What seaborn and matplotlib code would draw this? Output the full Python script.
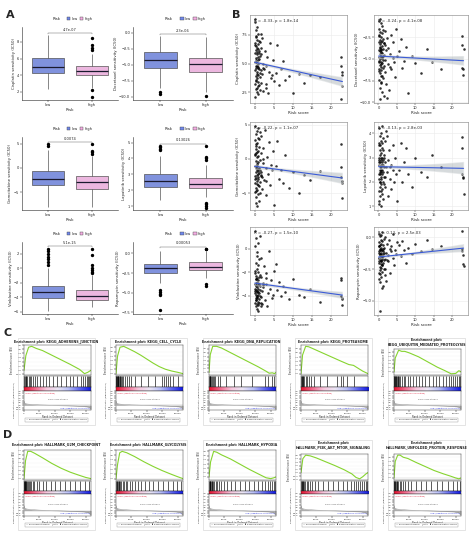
import numpy as np
import pandas as pd
import matplotlib
matplotlib.use("Agg")
import matplotlib.pyplot as plt
import seaborn as sns
from matplotlib.patches import Patch, Rectangle
from matplotlib.collections import PolyCollection
from matplotlib.colors import LinearSegmentedColormap
from matplotlib.ticker import MultipleLocator, FuncFormatter

# ---------------- panel A: drug sensitivity boxplots ----------------
drugs = ["Cisplatin", "Docetaxel", "Gemcitabine", "Lapatinib", "Vinblastine", "Rapamycin"]
box_pvals = ["4.7e-07", "2.3e-06", "0.0074", "0.13026", "5.1e-15", "0.00053"]
# (lower whisker, q1, median, q3, upper whisker)
low_stats = [(2.3, 4.26, 5.0, 6.1, 8.8), (-8.6, -5.5, -4.28, -3.08, -0.5),
             (-8.0, -3.6, -2.3, -0.6, 3.8), (1.4, 2.2, 2.6, 3.0, 4.15),
             (-5.9, -4.1, -3.3, -2.44, 0.0), (-3.7, -2.5, -1.84, -1.35, 0.35)]
high_stats = [(2.45, 4.0, 4.5, 5.07, 6.6), (-9.3, -6.1, -4.9, -3.9, -0.7),
              (-8.1, -4.3, -2.9, -1.6, 2.4), (1.6, 2.15, 2.4, 2.75, 3.6),
              (-5.4, -4.4, -3.8, -3.0, -1.0), (-3.07, -2.17, -1.72, -1.15, 0.35)]
low_outliers = [[], [-9.3, -9.6], [4.6, 4.9], [4.5, 4.6, 4.7, 4.8],
                [0.4, 0.8, 1.2, 1.6, 2.0, 2.4, 2.7], [-4.7, -4.9, -5.1, -5.3, -7.25]]
high_outliers = [[7.0, 7.3, 7.6, 8.5, 2.2, 1.4], [-9.9], [2.9, 3.2, 3.5, 4.9],
                 [3.9, 4.0, 4.1, 4.8, 1.2, 1.1, 1.0, 0.9],
                 [-0.7, -0.5, -0.3, 0.0, 0.4, 1.8, 2.7], [0.5, 0.6, -3.9, -4.1]]
box_yticks = [[2, 4, 6, 8], [-10.0, -7.5, -5.0, -2.5, 0.0], [-5, 0, 5],
              [1, 2, 3, 4, 5], [-6, -4, -2, 0, 2], [-7.5, -5.0, -2.5, 0.0]]
box_ylims = [(1.0, 9.8), (-10.5, 0.9), (-8.7, 6.4), (0.75, 5.35), (-6.3, 3.6), (-7.7, 1.45)]

# ---------------- panel B: risk score vs sensitivity ----------------
risk_score = [
    0.05, 0.1, 0.12, 0.15, 0.18, 0.2, 0.22, 0.25, 0.28, 0.3,
    0.32, 0.35, 0.38, 0.4, 0.42, 0.45, 0.48, 0.5, 0.52, 0.55,
    0.58, 0.6, 0.62, 0.65, 0.68, 0.7, 0.72, 0.75, 0.78, 0.8,
    0.82, 0.85, 0.88, 0.9, 0.92, 0.95, 0.98, 1.0, 1.05, 1.1,
    1.12, 1.15, 1.2, 1.25, 1.3, 1.35, 1.4, 1.45, 1.5, 1.55,
    0.08, 0.14, 0.26, 0.36, 0.46, 0.56, 0.66, 0.76, 0.86, 0.96,
    1.6, 1.7, 1.8, 1.9, 2.0, 2.1, 2.3, 2.5, 2.7, 2.9, 3.1, 3.3, 3.5, 3.8, 4.0, 4.2,
    4.5, 4.8, 5.0, 1.65, 2.2, 3.0,
    5.5, 6.0, 6.5, 7.0, 7.5, 8.0, 9.0, 10.0, 11.5, 13.0, 14.5, 17.0,
    22.5, 22.6, 22.7, 22.8, 22.9, 23.0]
cisplatin = [
    8.6, 3.2, 5.1, 6.8, 4.4, 2.1, 5.9, 4.8, 7.4, 3.9, 5.5, 6.2, 2.8, 4.6, 7.9, 5.3, 3.5, 6.5, 4.1, 5.8,
    2.5, 7.1, 4.9, 3.7, 6.0, 5.2, 8.2, 4.3, 3.0, 6.7, 5.6, 4.0, 7.6, 2.3, 5.0, 6.3, 3.4, 4.7, 5.9, 7.0,
    4.5, 3.1, 6.1, 5.4, 2.7, 4.2, 6.9, 3.8, 5.7, 4.4, 8.9, 6.6, 3.6, 5.1, 7.3, 4.8, 2.9, 6.4, 5.3, 4.6,
    6.4, 3.3, 5.8, 4.1, 7.2, 2.6, 5.0, 4.5, 6.1, 3.2, 4.8, 5.6, 2.4, 4.3, 6.8, 3.7, 4.0, 5.3, 3.5, 7.6,
    4.6, 2.9, 4.2, 6.6, 3.1, 4.5, 5.2, 3.6, 3.9, 2.4, 4.1, 3.3, 4.0, 3.8, 5.6, 4.8, 1.9, 4.3, 3.0, 4.0]
docetaxel = [
    -0.6, -5.2, -3.1, -7.4, -4.0, -2.2, -6.1, -4.8, -1.5, -5.7, -3.6, -8.3, -4.4, -2.8, -6.6, -5.0,
    -3.3, -9.6, -4.1, -1.9, -5.4, -7.0, -3.8, -2.5, -6.3, -4.6, -0.9, -5.9, -3.0, -7.8, -4.2, -2.0,
    -5.5, -6.9, -3.5, -4.9, -1.2, -8.8, -4.3, -5.1, -2.7, -6.0, -3.9, -7.2, -4.7, -1.7, -5.8, -3.2,
    -9.2, -4.5, -2.4, -6.4, -5.3, -3.7, -0.4, -4.0, -7.6, -5.6, -2.9, -4.8,
    -3.2, -6.5, -1.8, -5.1, -4.0, -7.9, -2.6, -5.6, -3.7, -8.6, -4.4, -2.2, -6.2, -4.9, -3.0, -5.4,
    -7.1, -1.6, -4.6, -3.4, -9.5, -5.9, -4.1, -2.7, -6.0, -5.2, -3.6, -8.9, -4.7, -5.5, -6.6, -3.9,
    -5.3, -6.2, -2.3, -3.4, -6.0, -6.2, -6.8, -3.8]
gemcitabine = [
    4.8, -2.5, 0.6, -4.9, -1.1, 2.7, -3.6, -0.3, -6.4, 1.5, -2.0, 3.6, -4.2, -1.4, 0.9, -5.6, -2.8,
    1.9, -0.8, -3.2, 4.1, -1.7, -6.9, 0.2, -2.3, 2.3, -4.5, -1.0, 3.1, -3.9, -0.5, -2.6, 1.2, -5.2,
    -1.8, 4.5, -3.0, 0.4, -2.1, -6.1, 1.7, -1.3, -4.0, 2.9, -0.1, -3.4, -1.6, 3.9, -5.0, -2.4, 0.7,
    -2.9, -1.2, -4.7, 2.1, -0.7, -3.7, 1.0, -2.2, -1.5,
    3.4, -1.9, 0.8, -4.4, -2.7, 1.6, -0.6, -3.1, 4.2, -1.4, -5.3, 0.3, -2.2, 2.5, -3.8, -0.9, -1.7,
    1.1, -6.8, -2.5, 0.0, -3.3, -1.0, 2.6, -2.9, -1.6, -3.5, 0.5, -4.3, -2.0, -5.0, -2.4, -3.1, -1.8,
    2.1, -1.2, -2.6, -3.3, -3.6, -5.7]
lapatinib = [
    4.2, 2.1, 3.0, 1.6, 2.7, 3.6, 2.3, 1.2, 2.9, 3.3, 2.0, 2.6, 3.9, 1.8, 2.4, 3.1, 2.8, 1.4, 2.5, 3.5,
    2.2, 4.0, 1.9, 2.7, 3.2, 1.0, 2.4, 2.9, 3.7, 2.1, 2.6, 1.7, 3.4, 2.3, 2.8, 1.5, 3.0, 2.5, 4.3, 2.0,
    2.7, 3.3, 1.3, 2.4, 2.9, 3.8, 2.2, 1.9, 3.1, 2.6, 1.1, 2.8, 3.5, 2.3, 2.0, 3.0, 2.5, 1.6, 3.6, 2.7,
    3.0, 2.2, 3.7, 1.8, 2.6, 4.1, 2.4, 1.4, 2.9, 3.3, 2.1, 2.7, 1.7, 3.5, 2.5, 2.0, 3.0, 2.3, 1.2, 2.8,
    3.9, 2.6, 2.5, 3.6, 2.0, 2.8, 3.4, 2.3, 1.8, 3.0, 2.4, 2.2, 3.1, 2.6, 3.85, 3.4, 2.3, 2.2, 2.15, 1.5]
vinblastine = [
    1.5, -3.4, -2.1, -4.6, -3.0, 0.2, -3.8, -2.6, -4.9, -1.2, -3.5, -4.2, -2.9, 0.9, -3.9, -4.4, -2.3,
    -3.2, -5.1, -1.7, -3.6, -4.0, -2.8, -0.6, -4.7, -3.3, -2.5, -4.1, -3.7, 0.5, -3.1, -4.5, -2.0,
    -3.9, -4.8, -1.4, -3.4, -2.7, -4.3, -3.0, -0.9, -3.8, -4.6, -2.4, -3.5, 1.1, -4.0, -3.2, -2.2,
    -4.9, -3.6, -1.9, -4.4, -3.1, -2.6, -0.3, -4.2, -3.7, -2.9, -5.3,
    -2.4, -4.1, -0.8, -3.6, -4.7, -2.9, -3.3, -1.5, -4.4, -3.0, -2.1, -4.9, -3.8, -0.2, -3.4, -2.7,
    -4.2, -3.9, -1.9, -4.6, -3.1, -2.5, -1.3, -3.5, -2.8, -4.0, -3.2, -3.7, -4.3, -2.6, -3.9, -4.1,
    -3.4, -4.5, -2.5, -2.7, -4.0, -4.2, -4.3, -4.8]
rapamycin = [
    0.3, -1.2, -2.0, -0.7, -1.6, -2.8, -0.4, -1.9, -1.1, -3.5, -0.9, -1.4, -2.3, 0.1, -1.7, -1.0,
    -2.6, -0.6, -1.3, -5.8, -1.8, -0.2, -2.1, -1.5, -3.1, -0.8, -1.2, -2.4, -0.5, -1.9, -1.4, -4.0,
    -0.3, -1.6, -2.2, -1.0, 0.4, -1.7, -2.7, -1.1, -0.6, -1.3, -3.8, -2.0, -0.9, -1.5, -2.5, -0.1,
    -1.8, -1.2, -3.3, -0.7, -1.6, -2.9, -1.4, 0.2, -1.9, -1.0, -2.2, -1.5,
    -0.8, -1.7, 0.0, -2.5, -1.2, -3.4, -0.5, -1.4, -1.9, -0.2, -2.8, -1.1, -0.7, -1.6, 0.3, -2.2,
    -1.0, -1.3, -0.4, -3.0, -1.8, -0.9, -0.6, -1.5, -0.3, -1.0, -2.0, -0.8, -1.3, -0.5, -1.1, -0.2,
    -0.9, -0.7, 0.5, -0.9, -1.1, -1.4, -2.1, -2.25]
scatter_y = [cisplatin, docetaxel, gemcitabine, lapatinib, vinblastine, rapamycin]
cor_labels = ["R = -0.33, p = 1.8e-14", "R = -0.24, p = 4.1e-08", "R = -0.22, p = 1.1e-07",
              "R = -0.13, p = 2.8e-03", "R = -0.27, p = 1.5e-10", "R = 0.13, p = 2.5e-03"]
scatter_yticks = [[2.5, 5.0, 7.5], [-10.0, -7.5, -5.0, -2.5], [-5, 0, 5],
                  [1, 2, 3, 4], [-4, -2, 0], [-5.0, -2.5, 0.0]]
risk_ticks = [0, 5, 10, 15, 20]

# ---------------- panels C/D: GSEA ----------------
gsea_titles = [
    "Enrichment plot: KEGG_ADHERENS_JUNCTION", "Enrichment plot: KEGG_CELL_CYCLE",
    "Enrichment plot: KEGG_DNA_REPLICATION", "Enrichment plot: KEGG_PROTEASOME",
    "Enrichment plot:\nKEGG_UBIQUITIN_MEDIATED_PROTEOLYSIS",
    "Enrichment plot: HALLMARK_G2M_CHECKPOINT", "Enrichment plot: HALLMARK_GLYCOLYSIS",
    "Enrichment plot: HALLMARK_HYPOXIA", "Enrichment plot:\nHALLMARK_PI3K_AKT_MTOR_SIGNALING",
    "Enrichment plot:\nHALLMARK_UNFOLDED_PROTEIN_RESPONSE"]
es_rank = [
    [0, 600, 1500, 2500, 4000, 6000, 9000, 12000, 15000, 18000, 19600, 20600, 21700],
    [0, 500, 1300, 2500, 4000, 6000, 8000, 10000, 12000, 14000, 16000, 18000, 20000, 21700],
    [0, 400, 1200, 2500, 4000, 7000, 10000, 13000, 16000, 18500, 19500, 20500, 21200, 21700],
    [0, 500, 1500, 2500, 4000, 7000, 10000, 13000, 15500, 17000, 18500, 20000, 21700],
    [0, 400, 1500, 2500, 3500, 5000, 8000, 11000, 14000, 16500, 18500, 20000, 21000, 21700],
    [0, 500, 1200, 2200, 3500, 6000, 9000, 12000, 15000, 18000, 20000, 21700],
    [0, 500, 1200, 2000, 3500, 6000, 9000, 12000, 15000, 18000, 20000, 21700],
    [0, 500, 1500, 2500, 4000, 7000, 10000, 13000, 16000, 18500, 20000, 21000, 21700],
    [0, 600, 1500, 3000, 5000, 8000, 11000, 14000, 16500, 17800, 19000, 20000, 21000, 21700],
    [0, 400, 1200, 2000, 3000, 4500, 7000, 10000, 13000, 16000, 18500, 20000, 21000, 21700]]
es_value = [
    [0.0, 0.35, 0.55, 0.57, 0.52, 0.47, 0.36, 0.25, 0.14, 0.02, -0.08, -0.05, 0.0],
    [0.0, 0.4, 0.6, 0.62, 0.57, 0.5, 0.42, 0.33, 0.24, 0.16, 0.1, 0.06, 0.03, 0.0],
    [0.0, 0.45, 0.66, 0.66, 0.62, 0.5, 0.38, 0.26, 0.14, 0.03, -0.02, -0.01, -0.03, 0.0],
    [0.0, 0.45, 0.66, 0.65, 0.6, 0.5, 0.4, 0.3, 0.22, 0.2, 0.13, 0.06, 0.0],
    [0.0, 0.35, 0.55, 0.52, 0.52, 0.48, 0.38, 0.25, 0.12, 0.03, -0.05, -0.04, 0.03, 0.0],
    [0.0, 0.45, 0.68, 0.68, 0.63, 0.52, 0.38, 0.26, 0.16, 0.08, 0.03, 0.0],
    [0.0, 0.3, 0.55, 0.58, 0.55, 0.47, 0.36, 0.26, 0.17, 0.09, 0.04, 0.0],
    [0.0, 0.35, 0.6, 0.58, 0.52, 0.42, 0.3, 0.18, 0.07, -0.02, -0.04, -0.02, 0.0],
    [0.0, 0.4, 0.5, 0.48, 0.42, 0.31, 0.2, 0.08, -0.04, -0.14, -0.18, -0.12, -0.04, 0.0],
    [0.0, 0.4, 0.55, 0.55, 0.5, 0.47, 0.38, 0.28, 0.18, 0.1, 0.04, 0.0, -0.02, 0.0]]
gsea_hits = [
    [120, 300, 520, 800, 1100, 1500, 1900, 2400, 3000, 3600, 4300, 5200, 6100, 7000, 8200, 9500,
     10800, 12000, 13500, 14800, 16000, 17200, 18300, 19200, 19900, 20400, 20800, 21200, 21500],
    [50, 150, 250, 380, 500, 650, 800, 1000, 1200, 1450, 1700, 2000, 2400, 2900, 3500, 4200, 5000,
     6300, 8000, 10500, 12500, 14800, 15500, 16200, 16900, 17600, 18400, 20000],
    [60, 180, 320, 480, 700, 950, 1250, 1600, 2100, 2800, 3700, 5500, 8200, 10500, 13800, 18200,
     19000, 20300, 21000],
    [80, 200, 350, 550, 800, 1100, 1500, 1900, 2500, 3200, 4300, 6000, 8300, 11500, 12800, 13600,
     15000, 17200],
    [40, 130, 240, 380, 520, 700, 900, 1150, 1400, 1700, 2100, 2600, 3100, 3700, 4400, 5200, 6000,
     7000, 8000, 9000, 10200, 11300, 12500, 13600, 14700, 15800, 16800, 17700, 18500, 19200, 19900,
     20500, 21000, 21400],
    [40, 120, 220, 340, 470, 620, 800, 1000, 1250, 1550, 1900, 2300, 2800, 3400, 4100, 5000, 6000,
     7200, 8600, 10000, 11500, 13200, 14800, 16500, 18200, 19800, 21000],
    [100, 250, 420, 620, 850, 1100, 1400, 1750, 2150, 2600, 3100, 3700, 4400, 5200, 6100, 7100, 8200,
     9400, 10700, 12100, 13600, 15200, 16800, 18400, 19900, 21200],
    [60, 170, 300, 450, 630, 850, 1100, 1400, 1750, 2200, 2700, 3300, 4000, 4800, 5800, 7000, 8400,
     9900, 11500, 13000, 14500, 16000, 17200, 18200, 19000, 19700, 20300, 20900, 21400],
    [70, 200, 360, 550, 780, 1050, 1400, 1800, 2300, 2900, 3600, 4500, 5600, 7000, 8600, 10300,
     12000, 13600, 15000, 16200, 17100, 17900, 18600, 19200, 19800, 20400, 21000, 21500],
    [50, 150, 280, 420, 600, 820, 1080, 1400, 1800, 2300, 2900, 3600, 4500, 5600, 7000, 8600, 10300,
     12000, 13800, 15600, 17400, 19000, 20500, 21300]]
metric_rank = [0, 200, 800, 2500, 5000, 8546, 12000, 16000, 19500, 21000, 21700]
metric_value = [0.9, 0.45, 0.28, 0.16, 0.07, 0.0, -0.07, -0.15, -0.25, -0.4, -0.85]
rank_ticks = [0, 5000, 10000, 15000, 20000]
n_genes = 21700

W, H = 474, 534
sns.set_style("ticks")
plt.rcParams["font.family"] = ["DejaVu Sans"]
fig = plt.figure(figsize=(W / 100, H / 100), dpi=100)

low_col, high_col = "#7088ec", "#f5aee4"


def px_axes(x0, y0, x1, y1):
    return fig.add_axes([x0 / W, 1 - y1 / H, (x1 - x0) / W, (y1 - y0) / H])


def expand(stats, outl):
    lo, q1, med, q3, hi = stats
    return list(outl) + [lo] + [q1] * 300 + [med] * 200 + [q3] * 300 + [hi]


def small_ticks(ax, size=2.6):
    ax.tick_params(labelsize=size, length=1.2, width=0.35, pad=0.8)


# panel A
a_cols = [(22, 118), (133, 233)]
a_rows = [(27, 100), (137, 210), (242, 314)]
for i in range(6):
    r, c = divmod(i, 2)
    ax = px_axes(a_cols[c][0], a_rows[r][0], a_cols[c][1], a_rows[r][1])
    lo_vals = expand(low_stats[i], low_outliers[i])
    hi_vals = expand(high_stats[i], high_outliers[i])
    df = pd.DataFrame({"Risk": ["low"] * len(lo_vals) + ["high"] * len(hi_vals),
                       "value": lo_vals + hi_vals})
    sns.boxplot(data=df, x="Risk", y="value", hue="Risk", order=["low", "high"],
                palette={"low": low_col, "high": high_col}, width=0.73, linewidth=0.45,
                linecolor="#444444", legend=False, ax=ax, showcaps=False,
                medianprops=dict(linewidth=0.9, color="#1a1a2e"),
                flierprops=dict(marker="o", markersize=1.4, markerfacecolor="black",
                                markeredgecolor="black"))
    ax.set_xlim(-0.6, 1.6)
    ax.set_ylim(*box_ylims[i])
    ax.set_yticks(box_yticks[i])
    sns.despine(ax=ax)
    for sp in ax.spines.values():
        sp.set_linewidth(0.4)
    small_ticks(ax, 2.6)
    ax.set_xlabel("Risk", fontsize=3, labelpad=1)
    ax.set_ylabel(f"{drugs[i]} sensitivity (IC50)", fontsize=2.8, labelpad=1)
    ymax = max(low_stats[i][4], high_stats[i][4], *(low_outliers[i] + high_outliers[i]))
    span = box_ylims[i][1] - box_ylims[i][0]
    yb = ymax + 0.03 * span
    ax.plot([0, 0, 1, 1], [yb - 0.015 * span, yb, yb, yb - 0.015 * span],
            color="#555555", lw=0.3)
    ax.text(0.5, yb + 0.015 * span, box_pvals[i], ha="center", va="bottom", fontsize=2.6)
    handles = [Patch(fc=low_col, ec="#444444", lw=0.3), Patch(fc=high_col, ec="#444444", lw=0.3)]
    ax.legend(handles, ["low", "high"], ncol=2, loc="center", bbox_to_anchor=(0.6, 1.11),
              frameon=False, fontsize=2.6, handlelength=1.0, handleheight=0.9,
              handletextpad=0.3, columnspacing=0.6, borderpad=0)
    ax.text(0.36, 1.11, "Risk", transform=ax.transAxes, ha="center", va="center", fontsize=2.8)

# panel B
b_cols = [(250, 347), (374, 468)]
b_rows = [(15, 103), (122, 210), (227, 315)]
for i in range(6):
    r, c = divmod(i, 2)
    ax = px_axes(b_cols[c][0], b_rows[r][0], b_cols[c][1], b_rows[r][1])
    sns.regplot(x=risk_score, y=scatter_y[i], ax=ax, ci=68, seed=1, truncate=True,
                scatter_kws=dict(s=3.4, color="black", linewidths=0),
                line_kws=dict(color="#3b5bd6", lw=0.8))
    for coll in ax.collections:
        if isinstance(coll, PolyCollection):
            coll.set_facecolor("#9aa3a8")
            coll.set_alpha(0.4)
    ax.set_xlim(-1.2, 24.2)
    ax.set_xticks(risk_ticks)
    ax.set_yticks(scatter_yticks[i])
    ax.grid(True, color="#ebebeb", lw=0.4)
    ax.set_axisbelow(True)
    for sp in ax.spines.values():
        sp.set_color("#8c8c8c")
        sp.set_linewidth(0.45)
    small_ticks(ax, 2.6)
    ax.set_xlabel("Risk score", fontsize=3, labelpad=1)
    ax.set_ylabel(f"{drugs[i]} sensitivity (IC50)", fontsize=2.8, labelpad=1)
    ax.text(0.04, 0.95, cor_labels[i], transform=ax.transAxes, ha="left", va="top", fontsize=2.8)

# panels C and D
cmap = LinearSegmentedColormap.from_list(
    "gsea", ["#e8112d", "#f26a8d", "#f7c6dd", "#ece6f5", "#b8bff7", "#5e66f0", "#0f17e6"])
gradient = np.linspace(0, 1, 256).reshape(1, -1)
frame_x = [18, 110, 203, 295, 388]
rows = [dict(ftop=338, title=342, es=(345, 375), bar=(376, 387), grad=(387, 391),
             met=(391, 410), legend=420, fbot=425),
        dict(ftop=440, title=445, es=(450, 480), bar=(481, 491), grad=(491, 494),
             met=(494, 516), legend=525, fbot=530)]
thousands = FuncFormatter(lambda v, p: f"{int(v):,}")
for k in range(10):
    row = rows[k // 5]
    fx = frame_x[k % 5]
    x0, x1 = fx + 6, fx + 73
    two_line = "\n" in gsea_titles[k]
    off = 4 if two_line else 0
    fig.add_artist(Rectangle((fx / W, 1 - row["fbot"] / H), 77 / W, (row["fbot"] - row["ftop"]) / H,
                             transform=fig.transFigure, fill=False, ec="#cfcfcf", lw=0.4))
    fig.text((fx + 38.5) / W, 1 - row["title"] / H, gsea_titles[k], ha="center", va="center",
             fontsize=2.4, fontweight="bold", linespacing=1.1)

    es_ax = px_axes(x0, row["es"][0] + off, x1, row["es"][1])
    sns.lineplot(x=es_rank[k], y=es_value[k], ax=es_ax, color="#86d42f", lw=0.8)
    es_ax.axhline(0, color="#c8c8c8", lw=0.3, zorder=0)
    es_ax.set_xlim(0, n_genes)
    es_ax.set_xticks([])
    es_ax.yaxis.set_major_locator(MultipleLocator(0.1))
    es_ax.set_ylabel("Enrichment score (ES)", fontsize=1.8, labelpad=0.8)
    es_ax.grid(True, axis="y", color="#eeeeee", lw=0.25)
    small_ticks(es_ax, 1.7)

    bar_ax = px_axes(x0, row["bar"][0], x1, row["bar"][1])
    bar_ax.vlines(gsea_hits[k], 0, 1, color="black", lw=0.45)
    bar_ax.set_xlim(0, n_genes)
    bar_ax.set_ylim(0, 1)
    bar_ax.set_xticks([])
    bar_ax.set_yticks([])

    grad_ax = px_axes(x0, row["grad"][0], x1, row["grad"][1])
    grad_ax.imshow(gradient, aspect="auto", cmap=cmap, extent=[0, n_genes, 0, 1])
    grad_ax.set_xticks([])
    grad_ax.set_yticks([])
    for ax_ in (bar_ax, grad_ax):
        for sp in ax_.spines.values():
            sp.set_linewidth(0.3)

    met_ax = px_axes(x0, row["met"][0], x1, row["met"][1])
    met_ax.fill_between(metric_rank, metric_value, color="#b0b0b0", lw=0)
    sns.lineplot(x=metric_rank, y=metric_value, ax=met_ax, color="#888888", lw=0.3)
    met_ax.axhline(0, color="#999999", lw=0.25)
    met_ax.set_xlim(0, n_genes)
    met_ax.set_ylim(-1.0, 3.0)
    met_ax.yaxis.set_major_locator(MultipleLocator(0.5))
    met_ax.set_xticks(rank_ticks)
    met_ax.xaxis.set_major_formatter(thousands)
    met_ax.set_xlabel("Rank in Ordered Dataset", fontsize=1.8, labelpad=0.6)
    met_ax.set_ylabel("Ranked list metric (Signal2Noise)", fontsize=1.5, labelpad=0.8)
    small_ticks(met_ax, 1.6)
    met_ax.text(0.02, 0.93, "'high' (positively correlated)", transform=met_ax.transAxes,
                color="#e0203a", fontsize=1.5, va="top")
    met_ax.text(0.5, 0.5, "Zero cross at 8546", transform=met_ax.transAxes,
                color="#555555", fontsize=1.5, ha="center")
    met_ax.text(0.98, 0.1, "'low' (negatively correlated)", transform=met_ax.transAxes,
                color="#2630e0", fontsize=1.5, ha="right")
    for ax_ in (es_ax, met_ax):
        for sp in ax_.spines.values():
            sp.set_linewidth(0.3)

    fig.text((fx + 38.5) / W, 1 - row["legend"] / H,
             "— Enrichment profile   | Hits   ▮ Ranking metric scores",
             ha="center", va="center", fontsize=1.6,
             bbox=dict(boxstyle="square,pad=0.4", fc="white", ec="#999999", lw=0.3))

# panel letters
for letter, (lx, ly) in {"A": (10, 15), "B": (236, 15), "C": (8, 333), "D": (8, 435)}.items():
    fig.text(lx / W, 1 - ly / H, letter, fontsize=8, fontweight="bold", ha="center", va="center")

fig.savefig("out.png", dpi=100)
